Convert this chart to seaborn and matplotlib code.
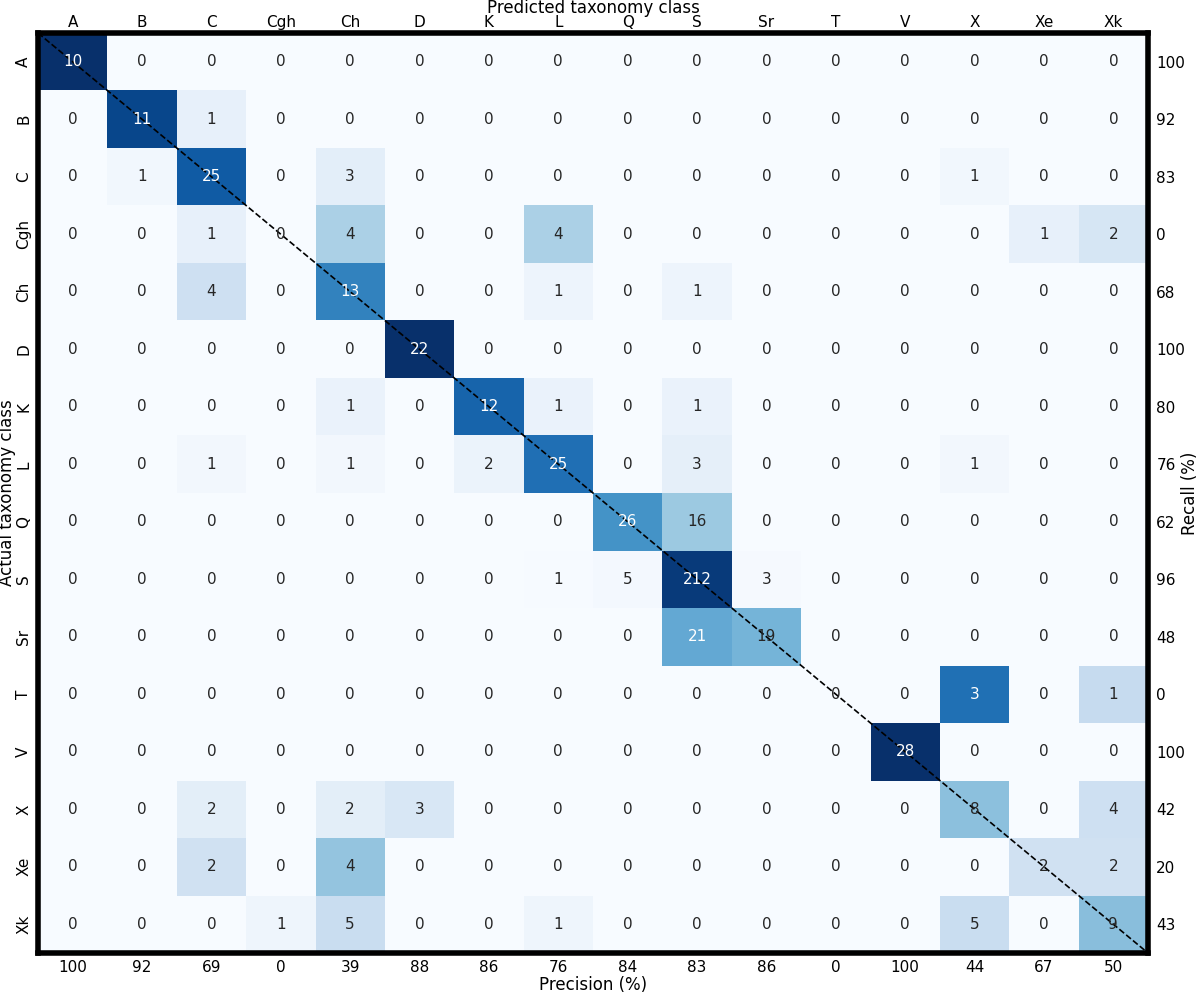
import numpy as np
import pandas as pd
import matplotlib
matplotlib.use("Agg")
import matplotlib.pyplot as plt
import seaborn as sns

classes = ["A", "B", "C", "Cgh", "Ch", "D", "K", "L", "Q", "S", "Sr", "T", "V", "X", "Xe", "Xk"]

# rows = actual class, columns = predicted class
counts = [
    [10, 0, 0, 0, 0, 0, 0, 0, 0, 0, 0, 0, 0, 0, 0, 0],
    [0, 11, 1, 0, 0, 0, 0, 0, 0, 0, 0, 0, 0, 0, 0, 0],
    [0, 1, 25, 0, 3, 0, 0, 0, 0, 0, 0, 0, 0, 1, 0, 0],
    [0, 0, 1, 0, 4, 0, 0, 4, 0, 0, 0, 0, 0, 0, 1, 2],
    [0, 0, 4, 0, 13, 0, 0, 1, 0, 1, 0, 0, 0, 0, 0, 0],
    [0, 0, 0, 0, 0, 22, 0, 0, 0, 0, 0, 0, 0, 0, 0, 0],
    [0, 0, 0, 0, 1, 0, 12, 1, 0, 1, 0, 0, 0, 0, 0, 0],
    [0, 0, 1, 0, 1, 0, 2, 25, 0, 3, 0, 0, 0, 1, 0, 0],
    [0, 0, 0, 0, 0, 0, 0, 0, 26, 16, 0, 0, 0, 0, 0, 0],
    [0, 0, 0, 0, 0, 0, 0, 1, 5, 212, 3, 0, 0, 0, 0, 0],
    [0, 0, 0, 0, 0, 0, 0, 0, 0, 21, 19, 0, 0, 0, 0, 0],
    [0, 0, 0, 0, 0, 0, 0, 0, 0, 0, 0, 0, 0, 3, 0, 1],
    [0, 0, 0, 0, 0, 0, 0, 0, 0, 0, 0, 0, 28, 0, 0, 0],
    [0, 0, 2, 0, 2, 3, 0, 0, 0, 0, 0, 0, 0, 8, 0, 4],
    [0, 0, 2, 0, 4, 0, 0, 0, 0, 0, 0, 0, 0, 0, 2, 2],
    [0, 0, 0, 1, 5, 0, 0, 1, 0, 0, 0, 0, 0, 5, 0, 9],
]

precision = [100, 92, 69, 0, 39, 88, 86, 76, 84, 83, 86, 0, 100, 44, 67, 50]
recall = [100, 92, 83, 0, 68, 100, 80, 76, 62, 96, 48, 0, 100, 42, 20, 43]

cm = pd.DataFrame(counts, index=classes, columns=classes)
cm_norm = cm.div(cm.sum(axis=1), axis=0)

W, H = 1200, 996
fig = plt.figure(figsize=(W / 100, H / 100), dpi=100)
x0, x1, y0, y1 = 38, 1148, 33, 953   # axes box in pixels (from top-left)
ax = fig.add_axes([x0 / W, 1 - y1 / H, (x1 - x0) / W, (y1 - y0) / H])
aw, ah = x1 - x0, y1 - y0

sns.heatmap(cm_norm, annot=cm.values, fmt="d", cmap="Blues", vmin=0, vmax=1,
            cbar=False, ax=ax, annot_kws={"fontsize": 11})

# diagonal dashed line
ax.plot([0, len(classes)], [0, len(classes)], color="black", linestyle="--", linewidth=1.2)

# twin axes first (twiny resets the main x ticks to the bottom)
ax_r = ax.twinx()
ax_b = ax.twiny()

ax.xaxis.tick_top()
ax.set_xticklabels(classes, rotation=0, fontsize=11)
ax.set_yticklabels(classes, rotation=90, va="center", fontsize=11)
ax.tick_params(axis="x", length=0, pad=2)
ax.tick_params(axis="y", length=0, pad=5)

ax.set_xlabel("Predicted taxonomy class", fontsize=12, va="center")
ax.xaxis.set_label_coords(0.5, 1 + (y0 - 8) / ah)
ax.set_ylabel("Actual taxonomy class", fontsize=12, va="center")
ax.yaxis.set_label_coords(-(x0 - 7) / aw, 0.5)

for sp in ax.spines.values():
    sp.set_visible(True)
    sp.set_linewidth(4)
    sp.set_color("black")

# recall on the right
ax_r.set_ylim(ax.get_ylim())
ax_r.set_yticks(np.arange(len(classes)) + 0.5)
ax_r.set_yticklabels(recall, fontsize=11)
ax_r.tick_params(length=0, pad=6)
ax_r.set_ylabel("Recall (%)", fontsize=12, va="center")
ax_r.yaxis.set_label_coords(1 + (1190 - x1) / aw, 0.5)

# precision at the bottom
ax_b.set_xlim(ax.get_xlim())
ax_b.xaxis.tick_bottom()
ax_b.set_xticks(np.arange(len(classes)) + 0.5)
ax_b.set_xticklabels(precision, fontsize=11)
ax_b.tick_params(length=0, pad=5)
ax_b.set_xlabel("Precision (%)", fontsize=12, va="center")
ax_b.xaxis.set_label_coords(0.5, -(985 - y1) / ah)

for a in (ax_r, ax_b):
    for sp in a.spines.values():
        sp.set_visible(False)

fig.savefig("out.png", dpi=100)
